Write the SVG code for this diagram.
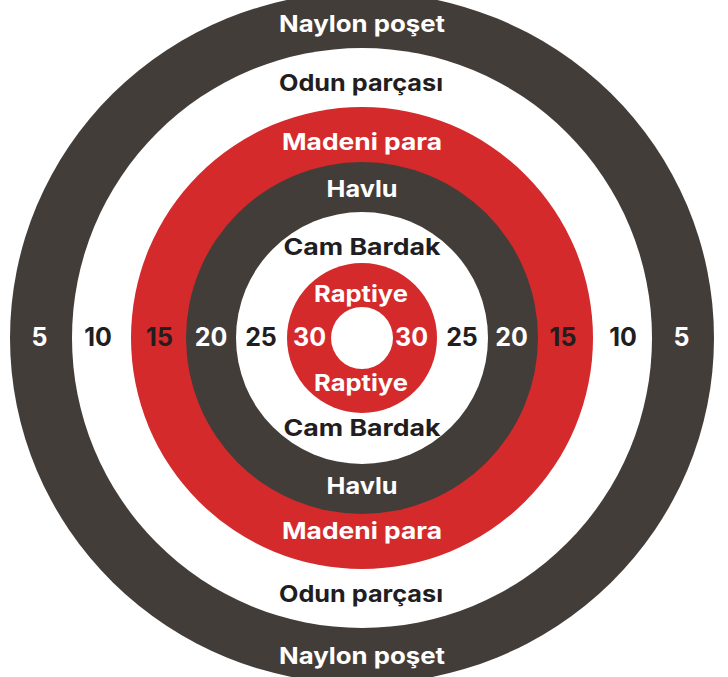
<svg xmlns="http://www.w3.org/2000/svg" width="728" height="677" viewBox="0 0 728 677">
<style>
.dk{fill:#433d3a}
.rd{fill:#d42a2c}
.wh{fill:#ffffff}
text{font-family:Inter,"Liberation Sans",Arial,sans-serif;font-weight:700;text-anchor:middle}
.lbl{font-size:23px}
.num{font-size:25px}
.tw{fill:#ffffff}
.tb{fill:#221d1e}
</style>
<rect width="728" height="677" fill="#ffffff"/>
<g id="ring-naylon"><ellipse class="dk" cx="362" cy="338" rx="352" ry="346"/></g>
<g id="ring-odun"><circle class="wh" cx="362" cy="338" r="290"/></g>
<g id="ring-madeni"><circle class="rd" cx="362" cy="338" r="231"/></g>
<g id="ring-havlu"><circle class="dk" cx="362" cy="338" r="176"/></g>
<g id="ring-cam"><circle class="wh" cx="362" cy="338" r="126"/></g>
<g id="ring-raptiye"><circle class="rd" cx="362" cy="338" r="75"/></g>
<g id="center"><circle class="wh" cx="362" cy="338" r="31"/></g>
<g id="labels">
<text class="lbl tw" x="362" y="32" textLength="166" lengthAdjust="spacingAndGlyphs">Naylon poşet</text>
<text class="lbl tb" x="361" y="91" textLength="164" lengthAdjust="spacingAndGlyphs">Odun parçası</text>
<text class="lbl tw" x="362" y="150" textLength="160" lengthAdjust="spacingAndGlyphs">Madeni para</text>
<text class="lbl tw" x="362" y="197" textLength="71" lengthAdjust="spacingAndGlyphs">Havlu</text>
<text class="lbl tb" x="362" y="255" textLength="157" lengthAdjust="spacingAndGlyphs">Cam Bardak</text>
<text class="lbl tw" x="361" y="302" textLength="94" lengthAdjust="spacingAndGlyphs">Raptiye</text>
<text class="lbl tw" x="361" y="391" textLength="94" lengthAdjust="spacingAndGlyphs">Raptiye</text>
<text class="lbl tb" x="362" y="436" textLength="157" lengthAdjust="spacingAndGlyphs">Cam Bardak</text>
<text class="lbl tw" x="362" y="494" textLength="71" lengthAdjust="spacingAndGlyphs">Havlu</text>
<text class="lbl tw" x="362" y="539" textLength="160" lengthAdjust="spacingAndGlyphs">Madeni para</text>
<text class="lbl tb" x="361" y="602" textLength="164" lengthAdjust="spacingAndGlyphs">Odun parçası</text>
<text class="lbl tw" x="362" y="664" textLength="166" lengthAdjust="spacingAndGlyphs">Naylon poşet</text>
</g>
<g id="scores">
<text class="num tw" x="39.5" y="346">5</text>
<text class="num tb" x="98" y="346">10</text>
<text class="num tb" x="159.5" y="346">15</text>
<text class="num tw" x="211" y="346">20</text>
<text class="num tb" x="261" y="346">25</text>
<text class="num tw" x="309.5" y="346">30</text>
<text class="num tw" x="411.5" y="346">30</text>
<text class="num tb" x="462" y="346">25</text>
<text class="num tw" x="511.5" y="346">20</text>
<text class="num tb" x="563" y="346">15</text>
<text class="num tb" x="623" y="346">10</text>
<text class="num tw" x="681.5" y="346">5</text>
</g>
</svg>
